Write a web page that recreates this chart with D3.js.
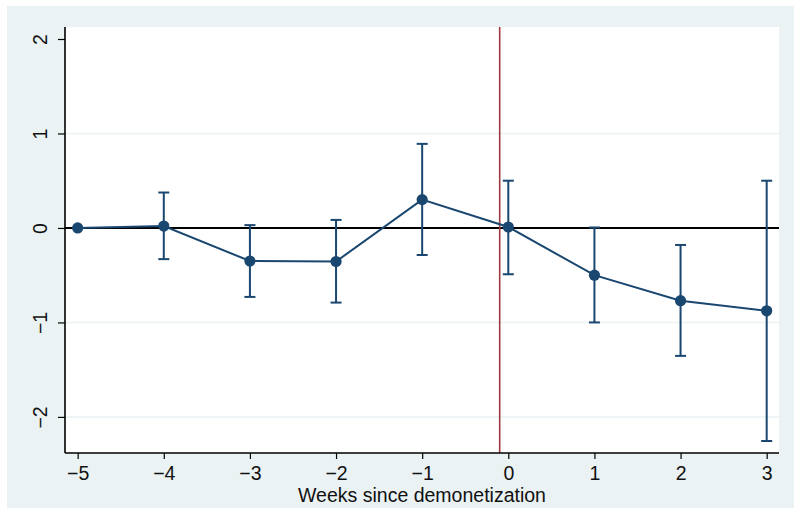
<!DOCTYPE html>
<html>
<head>
<meta charset="utf-8">
<script src="https://cdn.jsdelivr.net/npm/d3@7"></script>
<style>
  html, body { margin: 0; padding: 0; background: #ffffff; }
  svg { display: block; }
  text { font-family: "Liberation Sans", Arial, Helvetica, sans-serif; fill: #111; }
</style>
</head>
<body>
<svg id="chart" width="794" height="508"></svg>
<script>
// Event-study estimates by week relative to demonetization
const weeks    = [-5, -4, -3, -2, -1, 0, 1, 2, 3];
const estimate = [0, 0.02, -0.35, -0.355, 0.30, 0.01, -0.50, -0.77, -0.877];
const ciLow    = [0, -0.33, -0.73, -0.79, -0.286, -0.49, -1.00, -1.354, -2.255];
const ciHigh   = [0, 0.375, 0.03, 0.085, 0.89, 0.50, 0.005, -0.18, 0.50];

const xTicks = [-5, -4, -3, -2, -1, 0, 1, 2, 3];
const yTicks = [-2, -1, 0, 1, 2];
const yGrid  = [-2, -1, 1];
const eventLine = -0.1;
const xTitle = "Weeks since demonetization";

const svg = d3.select("#chart");
const W = 794, H = 508;
const plot = { left: 65, top: 27, right: 779, bottom: 453 };
const fontSize = 19.5;

// graph region
svg.append("rect").attr("x", 7).attr("y", 6).attr("width", W - 7).attr("height", H - 6)
  .attr("fill", "#eaf2f3");
// plot region
svg.append("rect").attr("x", plot.left).attr("y", plot.top)
  .attr("width", plot.right - plot.left).attr("height", plot.bottom - plot.top)
  .attr("fill", "#ffffff");

const x = d3.scaleLinear().domain([-5.147, 3.143]).range([plot.left, plot.right]);
const y = d3.scaleLinear().domain([-2.382, 2.127]).range([plot.bottom, plot.top]);

const navy = "#1a476f";

// horizontal grid
svg.append("g").selectAll("line").data(yGrid).join("line")
  .attr("x1", plot.left).attr("x2", plot.right)
  .attr("y1", d => y(d)).attr("y2", d => y(d))
  .attr("stroke", "#eaf2f3").attr("stroke-width", 1.5);

// reference lines
svg.append("line")
  .attr("x1", plot.left).attr("x2", plot.right)
  .attr("y1", y(0)).attr("y2", y(0))
  .attr("stroke", "#000").attr("stroke-width", 2);
svg.append("line")
  .attr("x1", x(eventLine)).attr("x2", x(eventLine))
  .attr("y1", plot.top).attr("y2", plot.bottom)
  .attr("stroke", "#9c3a3e").attr("stroke-width", 1.6);

const data = weeks.map((w, i) => ({ w, est: estimate[i], lo: ciLow[i], hi: ciHigh[i] }));

// confidence intervals
const ci = svg.append("g").attr("stroke", navy).attr("stroke-width", 2).attr("fill", "none");
const withCI = data.filter(d => d.hi !== d.lo);
ci.selectAll("line.v").data(withCI).join("line").attr("class", "v")
  .attr("x1", d => x(d.w)).attr("x2", d => x(d.w))
  .attr("y1", d => y(d.lo)).attr("y2", d => y(d.hi));
ci.selectAll("line.t").data(withCI).join("line").attr("class", "t")
  .attr("x1", d => x(d.w) - 5.5).attr("x2", d => x(d.w) + 5.5)
  .attr("y1", d => y(d.hi)).attr("y2", d => y(d.hi));
ci.selectAll("line.b").data(withCI).join("line").attr("class", "b")
  .attr("x1", d => x(d.w) - 5.5).attr("x2", d => x(d.w) + 5.5)
  .attr("y1", d => y(d.lo)).attr("y2", d => y(d.lo));

// connected estimates
svg.append("path").datum(data)
  .attr("d", d3.line().x(d => x(d.w)).y(d => y(d.est)))
  .attr("fill", "none").attr("stroke", navy).attr("stroke-width", 2);
svg.append("g").selectAll("circle").data(data).join("circle")
  .attr("cx", d => x(d.w)).attr("cy", d => y(d.est)).attr("r", 5.6)
  .attr("fill", navy);

// axes
const fmt = d3.format("d");
const xAxis = svg.append("g").attr("transform", `translate(0,${plot.bottom})`)
  .call(d3.axisBottom(x).tickValues(xTicks).tickFormat(fmt).tickSize(6).tickPadding(3));
const yAxis = svg.append("g").attr("transform", `translate(${plot.left},0)`)
  .call(d3.axisLeft(y).tickValues(yTicks).tickFormat(fmt).tickSize(7));

[xAxis, yAxis].forEach(g => {
  g.select(".domain").attr("stroke", "#000").attr("stroke-width", 1.6);
  g.selectAll(".tick line").attr("stroke", "#000").attr("stroke-width", 1.2);
  g.selectAll(".tick text").attr("font-size", fontSize).attr("fill", "#111")
    .attr("font-family", "'Liberation Sans', Arial, sans-serif");
});
xAxis.select(".domain").attr("d", `M${plot.left},0H${plot.right}`);
yAxis.select(".domain").attr("d", `M0,${plot.bottom}V${plot.top}`);

xAxis.selectAll(".tick text").attr("dy", null).attr("y", 27);
yAxis.selectAll(".tick text")
  .attr("x", null).attr("dy", null)
  .attr("text-anchor", "middle")
  .attr("transform", "translate(-18.5,0) rotate(-90)");

svg.append("text")
  .attr("x", (plot.left + plot.right) / 2).attr("y", 501.5)
  .attr("text-anchor", "middle").attr("font-size", fontSize)
  .text(xTitle);
</script>
</body>
</html>
